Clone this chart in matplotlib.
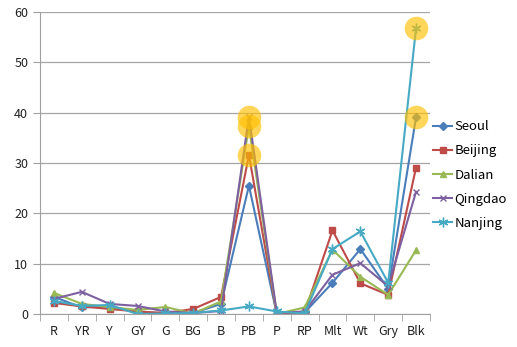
import matplotlib.pyplot as plt
import numpy as np
from matplotlib.ticker import FixedLocator

# colour categories along the x axis
categories = ["R", "YR", "Y", "GY", "G", "BG", "B", "PB", "P", "RP", "Mlt", "Wt", "Gry", "Blk"]

seoul = [3.4, 1.3, 1.5, 0.3, 0.2, 0.2, 2.0, 25.5, 0.0, 0.3, 6.2, 12.9, 5.0, 39.1]
beijing = [2.2, 1.5, 1.0, 0.5, 0.2, 1.0, 3.4, 31.6, 0.0, 0.3, 16.6, 6.1, 3.8, 29.1]
dalian = [4.2, 2.0, 1.4, 0.8, 1.4, 0.1, 2.5, 37.3, 0.0, 1.3, 12.8, 7.4, 3.8, 12.7]
qingdao = [3.0, 4.4, 2.0, 1.6, 0.5, 0.2, 0.6, 39.2, 0.2, 0.5, 7.8, 10.1, 5.5, 24.3]
nanjing = [2.6, 1.6, 1.8, 0.0, 0.1, 0.2, 0.7, 1.5, 0.5, 0.1, 12.9, 16.4, 6.2, 56.8]

series = [
    ("Seoul", seoul, "#4A7EBB", "D", 4),
    ("Beijing", beijing, "#BE4B48", "s", 5),
    ("Dalian", dalian, "#98B954", "^", 5),
    ("Qingdao", qingdao, "#7D60A0", "x", 5),
    ("Nanjing", nanjing, "#46AAC5", (6, 2, 0), 7),
]

# highlighted peaks: (category, value)
highlights = [("PB", 31.6), ("PB", 37.3), ("PB", 39.2), ("Blk", 39.1), ("Blk", 56.8)]

plt.rcParams["font.family"] = ["Noto Sans CJK KR", "DejaVu Sans"]

fig = plt.figure(figsize=(5.17, 3.47), dpi=100)
ax = fig.add_axes([0.0774, 0.0951, 0.7543, 0.8703])

x = np.arange(len(categories))
for name, vals, color, marker, ms in series:
    ax.plot(x, vals, color=color, linewidth=1.5, marker=marker, markersize=ms,
            markeredgewidth=1.0, label=name)

for cat, val in highlights:
    ax.plot(categories.index(cat), val, "o", markersize=17, color="#FFC000",
            alpha=0.65, markeredgewidth=0, zorder=5)

ax.set_xlim(-0.5, len(categories) - 0.5)
ax.set_ylim(0, 60)
ax.set_yticks(np.arange(0, 61, 10))
ax.set_xticks(x)
ax.set_xticklabels(categories)
ax.xaxis.set_minor_locator(FixedLocator(np.arange(-0.5, len(categories), 1.0)))
ax.tick_params(axis="x", which="major", length=0, labelsize=9, pad=8, colors="#222222")
ax.tick_params(axis="x", which="minor", length=5, color="#A0A0A0")
ax.tick_params(axis="y", length=5, color="#A0A0A0", labelsize=9, colors="#222222")

ax.grid(axis="y", color="#A6A6A6", linewidth=0.9)
ax.set_axisbelow(True)
for spine in ["top", "right"]:
    ax.spines[spine].set_visible(False)
ax.spines["left"].set_color("#A0A0A0")
ax.spines["bottom"].set_color("#A0A0A0")

ax.legend(loc="center left", bbox_to_anchor=(0.995, 0.46), frameon=False,
          fontsize=9.5, handlelength=1.4, handletextpad=0.2, labelspacing=0.85,
          borderaxespad=0.0)

fig.savefig("out.png", dpi=100)
